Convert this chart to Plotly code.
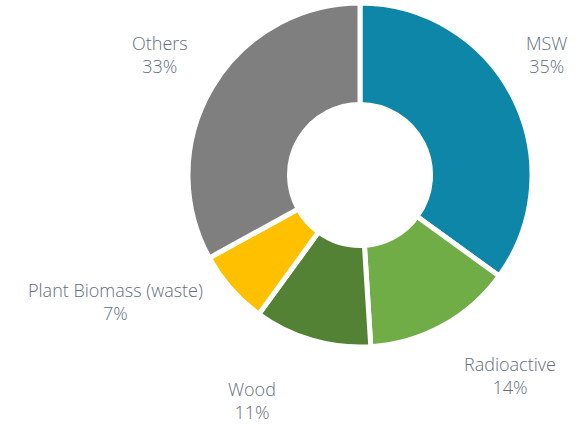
import plotly.graph_objects as go

# Share of each waste category
labels = ["MSW", "Radioactive", "Wood", "Plant Biomass (waste)", "Others"]
values = [35, 14, 11, 7, 33]
colors = ["#0E86A8", "#70AD47", "#548235", "#FFC000", "#7F7F7F"]

# Label anchor positions (pixels from top-left of the 577x425 canvas)
label_px = [(546, 55), (510, 375), (252, 400), (115, 301), (160, 54)]

W, H = 577, 425

fig = go.Figure(
    go.Pie(
        labels=labels,
        values=values,
        hole=0.41,
        sort=False,
        direction="clockwise",
        rotation=0,
        marker=dict(colors=colors, line=dict(color="white", width=5)),
        textinfo="none",
        hoverinfo="label+percent",
        domain=dict(x=[188 / W, 532 / W], y=[1 - 347 / H, 1 - 3 / H]),
        showlegend=False,
    )
)

total = sum(values)
for lab, val, (px, py) in zip(labels, values, label_px):
    fig.add_annotation(
        x=px / W,
        y=1 - py / H,
        xref="paper",
        yref="paper",
        text=f"{lab}<br>{round(val / total * 100)}%",
        showarrow=False,
        xanchor="center",
        yanchor="middle",
        align="center",
        font=dict(family="Open Sans", size=18, color="#636E80", weight=300),
    )

fig.update_layout(
    width=W,
    height=H,
    margin=dict(l=0, r=0, t=0, b=0),
    paper_bgcolor="white",
    plot_bgcolor="white",
)

fig.write_html("out.html")
